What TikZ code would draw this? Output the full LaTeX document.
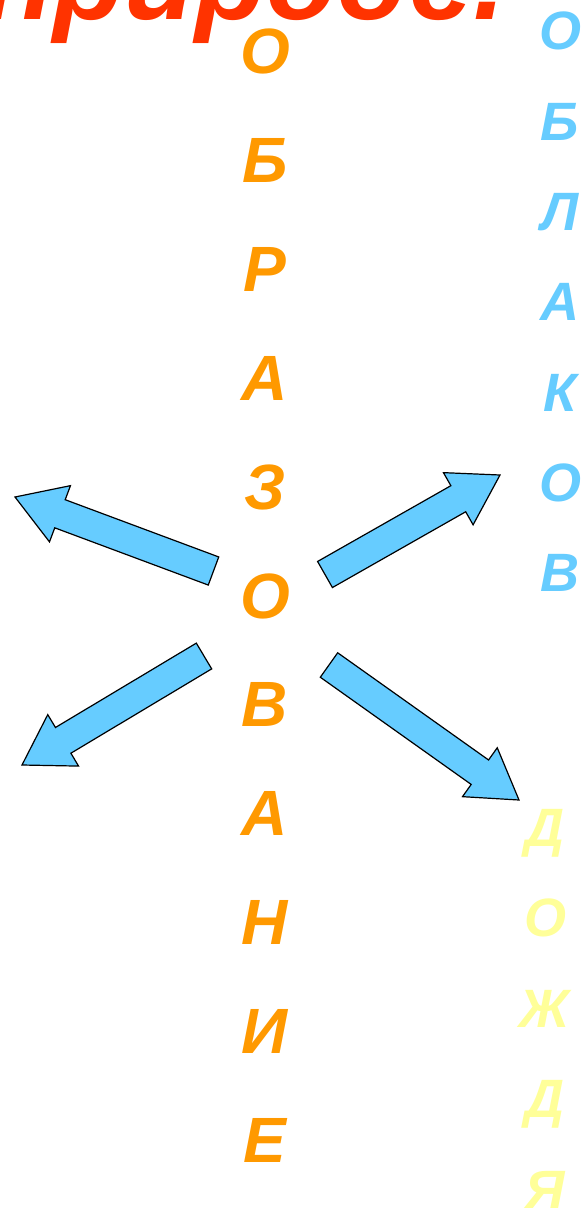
\documentclass[tikz,border=0pt]{standalone}
\usepackage{fontspec}
\setmainfont{Liberation Sans}
\usepackage{tikz}
\usetikzlibrary{calc}

\definecolor{titlered}{HTML}{FF3300}
\definecolor{wordorange}{HTML}{FF9900}
\definecolor{cloudblue}{HTML}{66CCFF}
\definecolor{rainyellow}{HTML}{FFFF99}

% fat block arrow from #1 to #2 (shaft 30pt, head 60pt wide, 48pt long)
\newcommand{\fatarrow}[2]{%
  \coordinate (neck) at ($(#2)!48pt!(#1)$);
  \draw[fatarrow] ($(#1)!15pt!90:(#2)$) -- ($(neck)!15pt!90:(#2)$)
    -- ($(neck)!30pt!90:(#2)$) -- (#2) -- ($(neck)!30pt!-90:(#2)$)
    -- ($(neck)!15pt!-90:(#2)$) -- ($(#1)!15pt!-90:(#2)$) -- cycle;
}

\begin{document}
\begin{tikzpicture}[x=1pt, y=-1pt,
    letter/.style={anchor=base, inner sep=0pt, font=\bfseries\itshape\fontsize{#1}{#1}\selectfont},
    fatarrow/.style={draw=black, fill=cloudblue, line width=1.2pt, line join=miter}]
    \clip (0,0) rectangle (583,1212);
    \fill[white] (0,0) rectangle (583,1212);

    % title line, only its lower part is inside the page
    \node[letter=116, anchor=base east, text=titlered] (title) at (506,20) {природе.};

    % the long word down the middle
    \foreach \l [count=\i from 0] in {О,Б,Р,А,З,О,В,А,Н,И,Е}
    {
      \node[letter=64, text=wordorange] (obr\i) at (265, {74 + \i*108.8}) {\l};
    }

    % right column, top
    \foreach \l [count=\i from 0] in {О,Б,Л,А,К,О,В}
    {
      \node[letter=54, text=cloudblue] (obl\i) at (560, {50 + \i*90.3}) {\l};
    }

    % right column, bottom
    \foreach \l [count=\i from 0] in {Д,О,Ж,Д,Я}
    {
      \node[letter=54, text=rainyellow] (dozh\i) at (545, {846 + \i*90.5}) {\l};
    }

    % arrows out of the middle
    \coordinate (ul tail) at (213.5,571);
    \coordinate (ul tip) at (15,497);
    \coordinate (ur tail) at (325,574.5);
    \coordinate (ur tip) at (500,475);
    \coordinate (ll tail) at (204,656);
    \coordinate (ll tip) at (22,765);
    \coordinate (lr tail) at (329,665);
    \coordinate (lr tip) at (519,800);

    \fatarrow{ul tail}{ul tip}
    \fatarrow{ur tail}{ur tip}
    \fatarrow{ll tail}{ll tip}
    \fatarrow{lr tail}{lr tip}
\end{tikzpicture}
\end{document}
